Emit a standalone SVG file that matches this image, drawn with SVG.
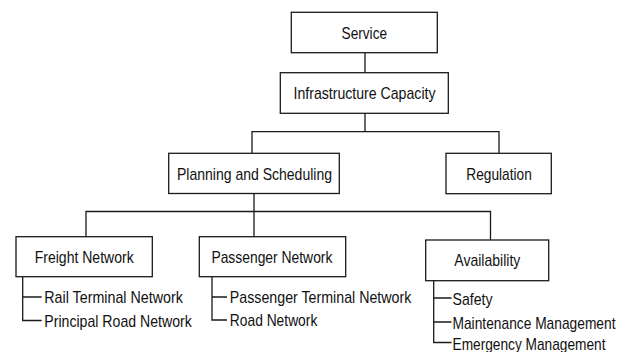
<svg xmlns="http://www.w3.org/2000/svg" width="629" height="352" viewBox="0 0 629 352">
<style>
.box{fill:#fff;stroke:#1a1a1a;stroke-width:1.3}
.ln{fill:none;stroke:#1a1a1a;stroke-width:1.3}
text{font-family:"Liberation Sans Narrow","Liberation Sans",Arial,sans-serif;font-size:17px;fill:#111}
.c{text-anchor:middle}
</style>
<rect width="629" height="352" fill="#fff"/>
<g id="connectors">
<path class="ln" d="M365,52.7V72.7"/>
<path class="ln" d="M365,113.3V131.7M252,153.3V131.7H499V153.3"/>
<path class="ln" d="M254,193.5V236.7M86,236.7V211.5H490.5V240"/>
<path class="ln" d="M22.7,276.7V320.5H41.7M22.7,297H41.7"/>
<path class="ln" d="M212,276.7V320H227M212,297H227"/>
<path class="ln" d="M433.7,280.7V342.5H451.5M433.7,298H451.5M433.7,322H451.5"/>
</g>
<g id="service">
<rect class="box" x="291.3" y="12.3" width="146" height="40.4"/>
<text class="c" x="364.3" y="39" textLength="45.5" lengthAdjust="spacingAndGlyphs">Service</text>
</g>
<g id="infrastructure">
<rect class="box" x="280.3" y="72.7" width="168" height="40.6"/>
<text class="c" x="364.5" y="99.2" textLength="142" lengthAdjust="spacingAndGlyphs">Infrastructure Capacity</text>
</g>
<g id="planning">
<rect class="box" x="168.7" y="153.3" width="170.6" height="40.2"/>
<text class="c" x="254.5" y="179.6" textLength="155" lengthAdjust="spacingAndGlyphs">Planning and Scheduling</text>
</g>
<g id="regulation">
<rect class="box" x="446" y="153.3" width="105.3" height="40.4"/>
<text class="c" x="499" y="179.6" textLength="65.5" lengthAdjust="spacingAndGlyphs">Regulation</text>
</g>
<g id="freight">
<rect class="box" x="16" y="236.7" width="136.3" height="40"/>
<text class="c" x="84.2" y="262.9" textLength="99" lengthAdjust="spacingAndGlyphs">Freight Network</text>
<text x="44.3" y="303.3" textLength="138.5" lengthAdjust="spacingAndGlyphs">Rail Terminal Network</text>
<text x="44.3" y="326.8" textLength="147.5" lengthAdjust="spacingAndGlyphs">Principal Road Network</text>
</g>
<g id="passenger">
<rect class="box" x="199.3" y="236.7" width="146.4" height="40"/>
<text class="c" x="271.9" y="262.9" textLength="121" lengthAdjust="spacingAndGlyphs">Passenger Network</text>
<text x="229.8" y="303.3" textLength="181.5" lengthAdjust="spacingAndGlyphs">Passenger Terminal Network</text>
<text x="229.8" y="326.3" textLength="87.5" lengthAdjust="spacingAndGlyphs">Road Network</text>
</g>
<g id="availability">
<rect class="box" x="425.7" y="240" width="123" height="40.7"/>
<text class="c" x="487.3" y="266.4" textLength="66" lengthAdjust="spacingAndGlyphs">Availability</text>
<text x="452.5" y="304.6" textLength="40" lengthAdjust="spacingAndGlyphs">Safety</text>
<text x="452.5" y="328.5" textLength="163" lengthAdjust="spacingAndGlyphs">Maintenance Management</text>
<text x="452.5" y="350" textLength="153" lengthAdjust="spacingAndGlyphs">Emergency Management</text>
</g>
</svg>
